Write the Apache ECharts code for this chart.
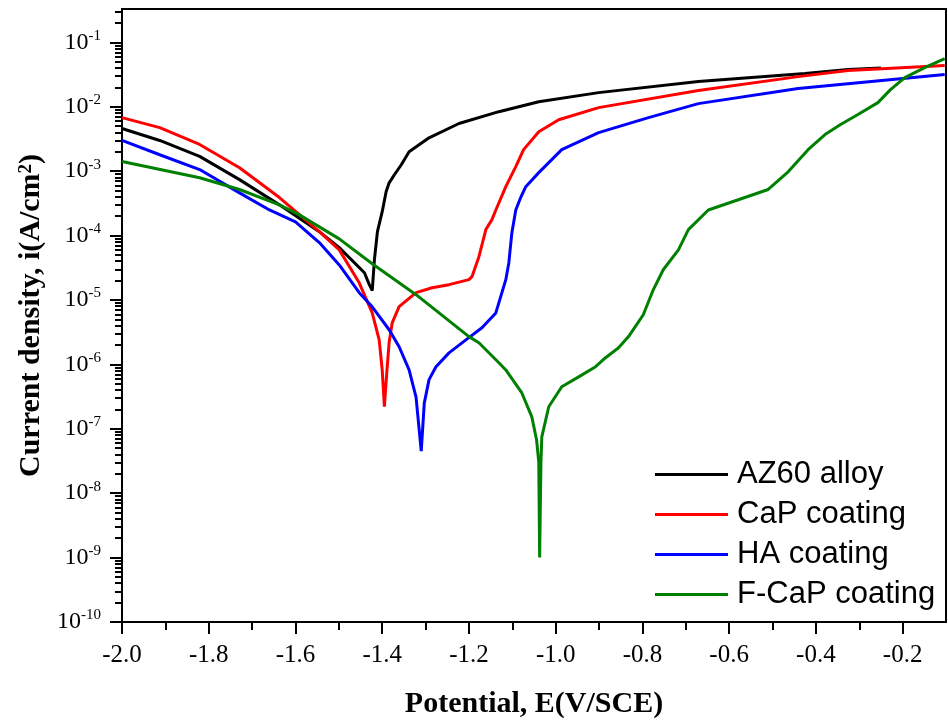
<!DOCTYPE html>
<html>
<head>
<meta charset="utf-8">
<title>Polarization curves</title>
<script src="https://cdn.jsdelivr.net/npm/echarts@6/dist/echarts.min.js"></script>
<style>
html, body { margin: 0; padding: 0; background: #fff; }
#main { width: 948px; height: 725px; }
</style>
</head>
<body>
<div id="main"></div>
<script>
// potential E (V/SCE), current density i (A/cm2)
var az60 = [
    [-2.000, 4.6e-3], [-1.913, 3.0e-3], [-1.821, 1.7e-3], [-1.729, 7.4e-4],
    [-1.637, 3.0e-4], [-1.545, 1.15e-4], [-1.499, 6.5e-5], [-1.441, 2.65e-5],
    [-1.430, 1.75e-5], [-1.423, 1.4e-5], [-1.418, 4.2e-5], [-1.411, 1.15e-4],
    [-1.400, 2.35e-4], [-1.391, 4.8e-4], [-1.384, 6.6e-4], [-1.372, 8.8e-4],
    [-1.356, 1.26e-3], [-1.338, 2.0e-3], [-1.292, 3.3e-3], [-1.223, 5.5e-3],
    [-1.131, 8.4e-3], [-1.039, 1.2e-2], [-0.901, 1.66e-2], [-0.671, 2.47e-2],
    [-0.425, 3.28e-2], [-0.326, 3.8e-2], [-0.250, 4.0e-2]
];
var cap = [
    [-2.000, 6.8e-3], [-1.913, 4.75e-3], [-1.821, 2.6e-3], [-1.729, 1.13e-3],
    [-1.637, 3.9e-4], [-1.545, 1.15e-4], [-1.499, 6.0e-5], [-1.453, 1.85e-5],
    [-1.423, 6.3e-6], [-1.407, 2.4e-6], [-1.400, 8.2e-7], [-1.395, 2.2e-7],
    [-1.389, 8.2e-7], [-1.384, 2.2e-6], [-1.377, 4.4e-6], [-1.361, 7.9e-6],
    [-1.322, 1.3e-5], [-1.285, 1.55e-5], [-1.246, 1.73e-5], [-1.200, 2.07e-5],
    [-1.193, 2.3e-5], [-1.177, 4.7e-5], [-1.161, 1.24e-4], [-1.147, 1.77e-4],
    [-1.138, 2.5e-4], [-1.115, 5.75e-4], [-1.092, 1.18e-3], [-1.074, 2.16e-3],
    [-1.039, 4.1e-3], [-0.993, 6.3e-3], [-0.901, 9.7e-3], [-0.671, 1.79e-2],
    [-0.441, 2.94e-2], [-0.326, 3.66e-2], [-0.103, 4.36e-2]
];
var ha = [
    [-2.000, 3.0e-3], [-1.913, 1.8e-3], [-1.821, 1.06e-3], [-1.729, 4.6e-4],
    [-1.660, 2.5e-4], [-1.600, 1.64e-4], [-1.545, 7.8e-5], [-1.499, 3.5e-5],
    [-1.453, 1.3e-5], [-1.423, 7.85e-6], [-1.384, 3.45e-6], [-1.361, 1.88e-6],
    [-1.338, 8.2e-7], [-1.322, 3.1e-7], [-1.310, 4.5e-8], [-1.303, 2.5e-7],
    [-1.292, 5.8e-7], [-1.276, 9.2e-7], [-1.246, 1.51e-6], [-1.207, 2.4e-6],
    [-1.170, 3.7e-6], [-1.138, 6.3e-6], [-1.124, 1.3e-5], [-1.115, 2.07e-5],
    [-1.108, 3.8e-5], [-1.101, 1.11e-4], [-1.092, 2.5e-4], [-1.080, 4.0e-4],
    [-1.069, 5.75e-4], [-1.039, 9.5e-4], [-1.009, 1.51e-3], [-0.986, 2.16e-3],
    [-0.901, 3.97e-3], [-0.786, 6.8e-3], [-0.671, 1.12e-2], [-0.441, 1.92e-2],
    [-0.103, 3.16e-2]
];
var fcap = [
    [-2.000, 1.41e-3], [-1.821, 7.9e-4], [-1.729, 5.2e-4], [-1.637, 3.0e-4],
    [-1.591, 2.1e-4], [-1.499, 8.9e-5], [-1.423, 3.65e-5], [-1.322, 1.21e-5],
    [-1.200, 2.7e-6], [-1.177, 2.17e-6], [-1.131, 1.06e-6], [-1.115, 8.2e-7],
    [-1.078, 3.6e-7], [-1.055, 1.53e-7], [-1.044, 6.7e-8], [-1.039, 3.0e-8],
    [-1.037, 1.0e-9], [-1.034, 3.0e-8], [-1.032, 7.5e-8], [-1.016, 2.2e-7],
    [-0.986, 4.5e-7], [-0.947, 6.4e-7], [-0.908, 9.2e-7], [-0.885, 1.27e-6],
    [-0.855, 1.81e-6], [-0.832, 2.7e-6], [-0.798, 5.9e-6], [-0.775, 1.44e-5],
    [-0.752, 2.95e-5], [-0.717, 6.0e-5], [-0.694, 1.24e-4], [-0.648, 2.5e-4],
    [-0.579, 3.6e-4], [-0.510, 5.2e-4], [-0.464, 9.8e-4], [-0.418, 2.16e-3],
    [-0.379, 3.7e-3], [-0.343, 5.3e-3], [-0.303, 7.6e-3], [-0.257, 1.16e-2],
    [-0.228, 1.85e-2], [-0.195, 2.84e-2], [-0.149, 4.06e-2], [-0.103, 5.6e-2]
];

var seriesNames = ['AZ60 alloy', 'CaP coating', 'HA coating', 'F-CaP coating'];
var seriesColors = ['#000000', '#ff0000', '#0000ff', '#008000'];

var xTicks = [-2.0, -1.8, -1.6, -1.4, -1.2, -1.0, -0.8, -0.6, -0.4, -0.2];
var xMinorTicks = [-1.9, -1.7, -1.5, -1.3, -1.1, -0.9, -0.7, -0.5, -0.3];
var yTicks = [1e-10, 1e-9, 1e-8, 1e-7, 1e-6, 1e-5, 1e-4, 1e-3, 1e-2, 1e-1];
var yMax = 0.33;

// every tick mark (decades and 2..9 x each decade)
var yAllTicks = [];
yTicks.forEach(function (d) {
    yAllTicks.push(d);
    for (var k = 2; k <= 9; k++) {
        if (d * k < yMax) yAllTicks.push(d * k);
    }
});
var xAllTicks = xTicks.concat(xMinorTicks).sort(function (a, b) { return a - b; });

var myChart = echarts.init(document.getElementById('main'));

var serif = 'Liberation Serif';

var option = {
    animation: false,
    backgroundColor: '#ffffff',
    textStyle: { fontFamily: serif },
    grid: {
        left: 122, top: 9, width: 824, height: 613,
        show: true, borderColor: '#000', borderWidth: 2
    },
    legend: {
        data: seriesNames.map(function (n) { return { name: n, icon: 'rect' }; }),
        orient: 'vertical',
        left: 655, top: 459, padding: 0,
        itemWidth: 73, itemHeight: 3, itemGap: 9,
        textStyle: {
            fontFamily: 'Liberation Sans', fontSize: 31, color: '#000',
            lineHeight: 30, padding: [0, 0, 0, 4]
        }
    },
    xAxis: [
        {
            type: 'value', min: -2.0, max: -0.1, position: 'bottom',
            name: 'Potential, E(V/SCE)', nameLocation: 'middle', nameGap: 67,
            nameTextStyle: { fontFamily: serif, fontWeight: 'bold', fontSize: 30, color: '#000' },
            axisLine: { lineStyle: { color: '#000', width: 2 } },
            axisTick: { show: true, customValues: xAllTicks, length: 8, lineStyle: { color: '#000', width: 2 } },
            axisLabel: {
                customValues: xTicks, margin: 21, fontSize: 25, color: '#000', fontFamily: serif,
                formatter: function (v) { return v.toFixed(1); }
            },
            splitLine: { show: false }
        },
        {
            // overlay: longer marks at the labelled values
            type: 'value', min: -2.0, max: -0.1, position: 'bottom',
            axisLine: { show: false, onZero: false },
            axisTick: { show: true, customValues: xTicks, length: 12, lineStyle: { color: '#000', width: 2 } },
            axisLabel: { show: true, customValues: xTicks, color: 'rgba(0,0,0,0)', fontSize: 4, margin: 2 },
            splitLine: { show: false }
        }
    ],
    yAxis: [
        {
            type: 'log', logBase: 10, min: yTicks[0], max: yMax, position: 'left',
            name: 'Current density, i(A/cm{sup|2})', nameLocation: 'middle', nameGap: 70,
            nameRotate: 90,
            nameTextStyle: {
                fontFamily: serif, fontWeight: 'bold', fontSize: 30, color: '#000',
                rich: {
                    sup: { fontFamily: serif, fontWeight: 'bold', fontSize: 19, color: '#000', verticalAlign: 'top' }
                }
            },
            axisLine: { lineStyle: { color: '#000', width: 2 } },
            axisTick: { show: true, customValues: yAllTicks, length: 7, lineStyle: { color: '#000', width: 2 } },
            axisLabel: {
                customValues: yTicks, margin: 21, color: '#000',
                formatter: function (v) {
                    return '{b|10}{s|' + Math.round(Math.log10(v)) + '}';
                },
                rich: {
                    b: { fontFamily: serif, fontSize: 24, color: '#000', lineHeight: 28 },
                    s: { fontFamily: serif, fontSize: 15, color: '#000', verticalAlign: 'top', lineHeight: 16 }
                }
            },
            splitLine: { show: false }
        },
        {
            // overlay in exponent space: longer marks at the decades
            type: 'value', min: Math.log10(yTicks[0]), max: Math.log10(yMax), position: 'left',
            axisLine: { show: false, onZero: false },
            axisTick: { show: true, customValues: yTicks.map(Math.log10), length: 12, lineStyle: { color: '#000', width: 2 } },
            axisLabel: { show: true, customValues: yTicks.map(Math.log10), color: 'rgba(0,0,0,0)', fontSize: 4, margin: 2 },
            splitLine: { show: false }
        }
    ],
    series: [az60, cap, ha, fcap].map(function (d, i) {
        return {
            name: seriesNames[i],
            type: 'line',
            data: d,
            symbol: 'none',
            smooth: false,
            lineStyle: { color: seriesColors[i], width: 3 },
            itemStyle: { color: seriesColors[i] }
        };
    })
};

myChart.setOption(option);
</script>
</body>
</html>
